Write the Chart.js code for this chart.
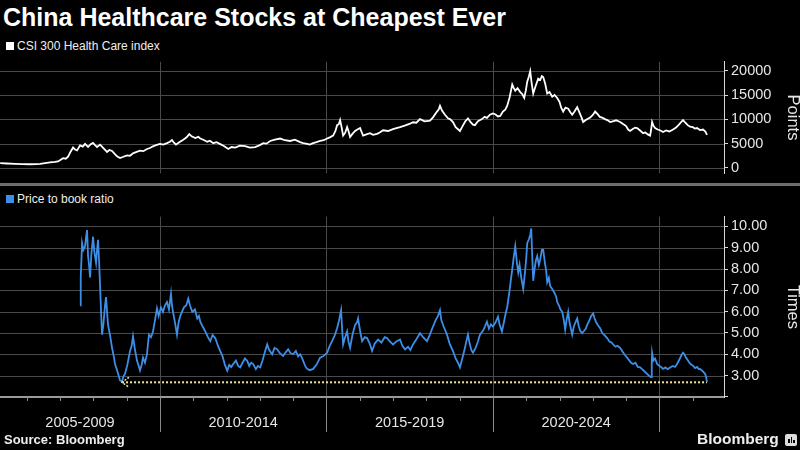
<!DOCTYPE html>
<html>
<head>
<meta charset="utf-8">
<script src="https://cdn.jsdelivr.net/npm/chart.js@4.4.1/dist/chart.umd.min.js"></script>
<style>
  body { margin: 0; background: #000; }
  #wrap { position: relative; width: 800px; height: 450px; overflow: hidden; background: #000;
          font-family: "Liberation Sans", Arial, sans-serif; color: #fff; }
  #title { position: absolute; left: 3px; top: 2px; font-size: 25px; font-weight: bold; line-height: 30px; white-space: nowrap; }
  .legend { position: absolute; left: 6px; font-size: 12px; line-height: 14px; color: #eee; white-space: nowrap; }
  .legend i { display: inline-block; width: 8px; height: 8px; margin-right: 3px; }
  .panel { position: absolute; left: 0; width: 800px; }
  #bar { position: absolute; left: 0; top: 183px; width: 800px; height: 3px; background: #6e6e6e; }
  #source { position: absolute; left: 4px; top: 432px; font-size: 13px; font-weight: bold; color: #eee; }
  #brand { position: absolute; left: 697px; top: 430px; font-size: 15.5px; font-weight: bold; color: #eee; }
  #logo { position: absolute; left: 785px; top: 434px; width: 12px; height: 12px; background: #ddd; border-radius: 2px; }
  #logo b { position: absolute; bottom: 3px; width: 1.5px; background: #000; }
</style>
</head>
<body>
<div id="wrap">
  <div id="title">China Healthcare Stocks at Cheapest Ever</div>
  <div class="legend" style="top:39px"><i style="background:#fff"></i>CSI 300 Health Care index</div>
  <div class="panel" style="top:50px;height:135px"><canvas id="top"></canvas></div>
  <div id="bar"></div>
  <div class="legend" style="top:192px"><i style="background:#3d8ee6"></i>Price to book ratio</div>
  <div class="panel" style="top:205px;height:235px"><canvas id="bottom"></canvas></div>
  <div id="source">Source: Bloomberg</div>
  <div id="brand">Bloomberg</div>
  <div id="logo"><b style="left:3px;height:4px"></b><b style="left:5.5px;height:6px"></b><b style="left:8px;height:3px"></b></div>
</div>
<script>
// CSI 300 Health Care index (points)
const hcYears = [
  2005.20, 2005.40, 2005.65, 2005.85, 2006.10, 2006.30, 2006.40, 2006.55, 2006.70, 2006.85, 2006.94,
  2007.09, 2007.17, 2007.24, 2007.32, 2007.39, 2007.45, 2007.51, 2007.60, 2007.68, 2007.75, 2007.84, 2007.92, 2007.99,
  2008.05, 2008.11, 2008.20, 2008.30, 2008.41, 2008.48, 2008.56, 2008.64, 2008.71, 2008.80, 2008.90,
  2009.01, 2009.10, 2009.19, 2009.30, 2009.40, 2009.50, 2009.61, 2009.70, 2009.79, 2009.88,
  2010.00, 2010.10, 2010.21, 2010.30, 2010.36, 2010.42, 2010.48, 2010.58, 2010.70, 2010.80, 2010.88, 2010.95,
  2011.06, 2011.15, 2011.21, 2011.30, 2011.42, 2011.50, 2011.60, 2011.70, 2011.81, 2011.92,
  2012.05, 2012.15, 2012.26, 2012.40, 2012.56, 2012.70, 2012.86,
  2013.00, 2013.10, 2013.20, 2013.31, 2013.45, 2013.61, 2013.75, 2013.91,
  2014.05, 2014.21, 2014.30, 2014.42, 2014.50, 2014.60, 2014.70, 2014.81, 2014.92,
  2015.02, 2015.10, 2015.20, 2015.27, 2015.32, 2015.37, 2015.41, 2015.46, 2015.50, 2015.56, 2015.62, 2015.67, 2015.71, 2015.78, 2015.86, 2015.93,
  2016.01, 2016.05, 2016.10, 2016.20, 2016.31, 2016.40, 2016.52, 2016.60, 2016.70, 2016.85,
  2017.00, 2017.10, 2017.21, 2017.35, 2017.51, 2017.60, 2017.70, 2017.81, 2017.95,
  2018.11, 2018.20, 2018.32, 2018.37, 2018.41, 2018.47, 2018.56, 2018.65, 2018.72, 2018.80, 2018.88,
  2019.01, 2019.08, 2019.17, 2019.25, 2019.33, 2019.40, 2019.46, 2019.55, 2019.67, 2019.75, 2019.82, 2019.91,
  2020.00, 2020.08, 2020.15, 2020.22, 2020.30, 2020.37, 2020.43, 2020.50, 2020.58, 2020.62, 2020.67, 2020.74, 2020.82, 2020.88, 2020.94, 2020.99,
  2021.03, 2021.08, 2021.12, 2021.16, 2021.21, 2021.28, 2021.36, 2021.42, 2021.47, 2021.51, 2021.57, 2021.63, 2021.70, 2021.78, 2021.85, 2021.93,
  2022.00, 2022.05, 2022.11, 2022.18, 2022.26, 2022.32, 2022.38, 2022.45, 2022.53, 2022.60, 2022.66, 2022.71, 2022.80, 2022.92,
  2023.00, 2023.07, 2023.15, 2023.21, 2023.28, 2023.38, 2023.45, 2023.52, 2023.60, 2023.70, 2023.82, 2023.92,
  2024.00, 2024.06, 2024.12, 2024.20, 2024.27, 2024.33, 2024.42, 2024.51, 2024.58, 2024.65, 2024.72, 2024.75, 2024.78, 2024.82, 2024.87, 2024.95,
  2025.03, 2025.11, 2025.20, 2025.30, 2025.41, 2025.50, 2025.60, 2025.66, 2025.71, 2025.78, 2025.85, 2025.92,
  2026.00, 2026.06, 2026.13, 2026.22, 2026.31, 2026.38, 2026.43
];
const hcValues = [
  1000, 920, 850, 800, 760, 790, 830, 980, 1150, 1250, 1350,
  2000, 1900, 2300, 3400, 4200, 3800, 3600, 4650, 4400, 4950, 4300, 4900, 5150,
  4700, 4300, 4800, 4100, 3300, 3700, 3500, 2900, 2400, 2050, 2300,
  2600, 2500, 3000, 3300, 3550, 3450, 3900, 4100, 4450, 4700,
  4950, 4800, 5100, 5400, 5750, 5200, 4800, 5300, 5800, 6300, 6950, 6500,
  6150, 6400, 6050, 5800, 5400, 5600, 5100, 5300, 4900, 4500,
  3900, 4300, 4200, 4600, 4500, 4200, 4300,
  4700, 5100, 5000, 5550, 5800, 6050, 5700, 5550,
  5800, 5300, 5100, 4950, 4800, 5100, 5300, 5550, 5700,
  6050, 6300, 6650, 7600, 8800, 9000, 9850, 8200, 6650, 7200, 8400, 7400, 6350, 7000, 7600, 7900,
  8200, 7500, 6650, 6900, 7150, 6800, 7000, 7300, 7750, 7600,
  8000, 8200, 8400, 8700, 9100, 9400, 9300, 10050, 9600,
  9750, 10400, 11600, 12000, 12800, 11800, 10950, 10200, 10000, 9450, 8400,
  7600, 8500, 9600, 10200, 9400, 8900, 8800, 9600, 10050, 10500, 10300, 10950,
  11200, 11000, 10600, 10700, 11600, 12000, 12800, 14500, 17150, 16500, 15900, 16400, 15600, 15200, 14400, 16000,
  17750, 18800, 19900, 17600, 15300, 16800, 18350, 18100, 18900, 18700, 17300, 15300, 15600, 14650, 15000, 14400,
  13600, 12400, 11600, 12400, 12200, 11500, 10950, 11600, 12500, 11400, 10400, 9450, 9900, 10350,
  10900, 11600, 11000, 10500, 10350, 10000, 9800, 9450, 9600, 9800, 9450, 9000,
  8600, 7900, 7600, 8000, 8300, 8200, 7700, 7150, 7300, 6900, 6650, 7800, 9450, 8700, 8200, 7900,
  7700, 7400, 7700, 7500, 7900, 8300, 9000, 9500, 9850, 9300, 8800, 8500,
  8400, 8100, 8200, 7800, 7900, 7500, 6800
];

// Price to book ratio (times)
const pbYears = [
  2007.60, 2007.62, 2007.66, 2007.70, 2007.75, 2007.78, 2007.81, 2007.84, 2007.87, 2007.90, 2007.94, 2007.99,
  2008.03, 2008.08, 2008.11, 2008.14, 2008.17, 2008.20, 2008.23, 2008.26, 2008.30, 2008.35, 2008.38, 2008.41, 2008.44,
  2008.50, 2008.56, 2008.60, 2008.65, 2008.72, 2008.80, 2008.86, 2008.90, 2008.95,
  2009.02, 2009.10, 2009.15, 2009.19, 2009.24, 2009.31, 2009.35, 2009.40, 2009.45, 2009.49, 2009.55, 2009.61,
  2009.64, 2009.67, 2009.73, 2009.79, 2009.85, 2009.91, 2009.96,
  2010.03, 2010.09, 2010.15, 2010.21, 2010.27, 2010.33, 2010.36, 2010.39, 2010.45, 2010.51, 2010.56, 2010.61,
  2010.66, 2010.72, 2010.79, 2010.85, 2010.90, 2010.97,
  2011.05, 2011.12, 2011.17, 2011.21, 2011.28, 2011.36, 2011.44, 2011.51, 2011.58, 2011.66, 2011.74, 2011.81, 2011.88, 2011.95,
  2012.02, 2012.08, 2012.14, 2012.20, 2012.28, 2012.35, 2012.41, 2012.48, 2012.55, 2012.62, 2012.68, 2012.74, 2012.80, 2012.88, 2012.94,
  2013.01, 2013.08, 2013.15, 2013.22, 2013.28, 2013.37, 2013.44, 2013.52, 2013.60, 2013.70, 2013.78, 2013.85, 2013.92,
  2014.00, 2014.08, 2014.15, 2014.21, 2014.26, 2014.30, 2014.36, 2014.42, 2014.50, 2014.60, 2014.70, 2014.81, 2014.90,
  2015.02, 2015.10, 2015.17, 2015.25, 2015.32, 2015.38, 2015.44, 2015.47, 2015.50, 2015.56, 2015.62, 2015.66, 2015.71,
  2015.78, 2015.86, 2015.92, 2015.95,
  2016.01, 2016.07, 2016.15, 2016.22, 2016.30, 2016.37, 2016.45, 2016.55, 2016.65, 2016.75, 2016.82, 2016.90,
  2017.00, 2017.10, 2017.21, 2017.28, 2017.36, 2017.45, 2017.52, 2017.60, 2017.70, 2017.81, 2017.90,
  2018.02, 2018.10, 2018.20, 2018.28, 2018.35, 2018.41, 2018.45, 2018.52, 2018.62, 2018.70, 2018.80, 2018.88, 2018.95,
  2019.01, 2019.08, 2019.16, 2019.20, 2019.25, 2019.30, 2019.35, 2019.40, 2019.48, 2019.55, 2019.61, 2019.70, 2019.76,
  2019.82, 2019.88, 2019.94,
  2020.00, 2020.08, 2020.15, 2020.20, 2020.27, 2020.33, 2020.38, 2020.43, 2020.50, 2020.54, 2020.58, 2020.62, 2020.67,
  2020.72, 2020.76, 2020.80, 2020.85, 2020.91, 2020.96,
  2021.00, 2021.03, 2021.08, 2021.12, 2021.15, 2021.18, 2021.21, 2021.25, 2021.29, 2021.33, 2021.38, 2021.42, 2021.47,
  2021.51, 2021.56, 2021.60, 2021.63, 2021.68, 2021.72, 2021.78, 2021.84, 2021.90, 2021.93, 2021.98,
  2022.03, 2022.08, 2022.13, 2022.17, 2022.21, 2022.26, 2022.30, 2022.34, 2022.38, 2022.43, 2022.48, 2022.53, 2022.58,
  2022.62, 2022.68, 2022.74, 2022.79, 2022.83, 2022.90, 2022.95,
  2023.01, 2023.05, 2023.10, 2023.16, 2023.22, 2023.28, 2023.35, 2023.43, 2023.50, 2023.56, 2023.61, 2023.68, 2023.74,
  2023.82, 2023.90, 2023.97,
  2024.03, 2024.10, 2024.15, 2024.21, 2024.28, 2024.35, 2024.42, 2024.48, 2024.55, 2024.63, 2024.68, 2024.72, 2024.75,
  2024.77, 2024.78, 2024.82, 2024.87, 2024.93,
  2025.00, 2025.05, 2025.11, 2025.18, 2025.25, 2025.32, 2025.40, 2025.47, 2025.53, 2025.60, 2025.66, 2025.71, 2025.75,
  2025.79, 2025.83, 2025.90, 2025.96,
  2026.01, 2026.07, 2026.13, 2026.18, 2026.22, 2026.30, 2026.37, 2026.40, 2026.43
];
const pbValues = [
  6.30, 7.6, 9.22, 8.9, 9.07, 9.5, 9.83, 8.6, 8.2, 7.61, 8.7, 9.52,
  8.8, 8.30, 8.9, 9.37, 8.4, 7.22, 6.0, 4.92, 5.4, 6.3, 6.68, 6.0, 5.38,
  4.9, 4.30, 4.0, 3.54, 3.2, 2.77, 2.72, 2.95, 3.08,
  3.5, 4.15, 4.4, 4.84, 4.3, 3.69, 3.5, 3.23, 3.5, 3.84, 3.6, 4.00,
  4.5, 4.92, 4.8, 5.07, 5.6, 6.15, 5.8,
  6.2, 5.99, 6.3, 6.45, 6.1, 6.84, 6.3, 5.99, 5.5, 4.92, 5.5, 5.8,
  5.99, 6.2, 6.3, 6.61, 6.3, 5.99,
  6.1, 5.68, 5.8, 5.53, 5.3, 5.07, 4.8, 4.61, 4.9, 4.76, 4.4, 4.15, 3.9, 3.5,
  3.23, 3.5, 3.4, 3.54, 3.7, 3.45, 3.38, 3.6, 3.8, 3.69, 3.45, 3.6, 3.54, 3.3, 3.45,
  3.38, 3.7, 4.1, 4.46, 4.2, 4.00, 4.3, 4.23, 4.05, 3.92, 4.1, 4.23, 4.05,
  4.00, 4.15, 3.9, 4.00, 3.85, 3.69, 3.45, 3.31, 3.25, 3.31, 3.5, 3.84, 3.9,
  4.07, 4.4, 4.61, 4.9, 5.22, 5.6, 6.07, 5.2, 4.46, 4.8, 5.07, 4.6, 4.30,
  4.9, 5.38, 5.5, 5.68,
  5.1, 4.61, 4.8, 4.76, 4.5, 4.15, 4.5, 4.69, 4.55, 4.8, 4.76, 4.6,
  4.46, 4.6, 4.69, 4.4, 4.23, 4.35, 4.2, 4.46, 4.7, 4.99, 4.8,
  4.61, 4.9, 5.30, 5.6, 5.8, 6.07, 5.6, 5.3, 4.92, 4.5, 4.15, 3.8, 3.6,
  3.38, 3.8, 4.30, 4.6, 4.92, 4.5, 4.2, 4.07, 4.3, 4.6, 4.92, 5.1, 5.3,
  5.53, 5.2, 5.4,
  5.30, 5.5, 5.76, 5.4, 5.07, 5.5, 5.9, 6.22, 7.0, 7.5, 7.99, 8.5, 9.07,
  8.3, 7.84, 8.2, 7.6, 7.07, 7.8,
  8.5, 9.22, 9.4, 9.6, 9.91, 8.6, 7.45, 8.0, 8.4, 8.61, 8.2, 8.45, 8.9,
  8.91, 8.3, 7.9, 7.38, 7.6, 7.2, 7.07, 6.9, 6.7, 6.45, 6.3,
  6.1, 5.99, 5.6, 5.15, 5.6, 5.99, 5.5, 5.2, 4.92, 5.3, 5.5, 5.68, 5.3,
  5.1, 4.99, 5.1, 5.2, 5.38, 5.6, 5.8,
  5.92, 5.7, 5.5, 5.35, 5.22, 5.0, 4.9, 4.76, 4.6, 4.55, 4.46, 4.35, 4.4,
  4.30, 4.1, 3.95,
  3.84, 3.7, 3.6, 3.54, 3.6, 3.4, 3.38, 3.3, 3.2, 3.08, 3.0, 2.95, 2.92,
  3.6, 4.07, 3.7, 3.8, 3.54,
  3.45, 3.4, 3.31, 3.38, 3.3, 3.38, 3.45, 3.4, 3.54, 3.75, 3.95, 4.07, 4.0,
  3.85, 3.77, 3.6, 3.5,
  3.46, 3.35, 3.4, 3.3, 3.31, 3.2, 3.08, 2.95, 2.69
];

// record-low reference line (from the 2008 trough to the latest reading)
const floorLevel = 2.68;
const floorSpan = [2008.86, 2026.43];

// x axis: year ticks and five-year period labels
const yearTicks = [2006, 2007, 2008, 2009, 2010, 2011, 2012, 2013, 2014, 2015, 2016,
  2017, 2018, 2019, 2020, 2021, 2022, 2023, 2024, 2025, 2026];
const periodStarts = [2005, 2010, 2015, 2020];
const periodLabels = ["2005-2009", "2010-2014", "2015-2019", "2020-2024"];
const periodBreaks = [2010, 2015, 2020, 2025];

const xMin = 2005.195;
const xMax = 2026.94;

const gridColor = "#4a4a4a";
const textColor = "#e6e6e6";
const font = "'Liberation Sans', Arial, sans-serif";

function isMajor(v, major) {
  return Math.abs(v / major - Math.round(v / major)) < 1e-6;
}

// grid drawn from the library's scales: horizontal at labelled values, vertical at period breaks
const panelGrid = {
  id: "panelGrid",
  beforeDatasetsDraw(chart, args, opts) {
    const ctx = chart.ctx;
    const area = chart.chartArea;
    const x = chart.scales.x;
    const y = chart.scales.y;
    ctx.save();
    ctx.strokeStyle = gridColor;
    ctx.lineWidth = 1;
    opts.values.forEach((v) => {
      const py = Math.round(y.getPixelForValue(v)) + 0.5;
      ctx.beginPath();
      ctx.moveTo(area.left, py);
      ctx.lineTo(area.right, py);
      ctx.stroke();
    });
    periodBreaks.forEach((v) => {
      const px = Math.round(x.getPixelForValue(v)) + 0.5;
      ctx.beginPath();
      ctx.moveTo(px, area.top);
      ctx.lineTo(px, area.bottom);
      ctx.stroke();
    });
    ctx.restore();
  },
};

function xScale(height) {
  return {
    type: "linear",
    min: xMin,
    max: xMax,
    ticks: { display: false },
    grid: { display: false },
    border: { display: false },
    afterFit: (s) => { s.height = height; },
  };
}

function yScale(min, max, step, major, firstLabel, title, fmt) {
  return {
    position: "right",
    min: min,
    max: max,
    afterBuildTicks: (s) => {
      const t = [];
      for (let v = Math.ceil(min / step) * step; v <= max + 1e-9; v += step) {
        t.push({ value: Math.round(v * 100) / 100 });
      }
      s.ticks = t;
    },
    afterFit: (s) => { s.width = 76; },
    ticks: {
      color: textColor,
      font: { family: font, size: 14.5 },
      padding: 3,
      callback: (v) => (isMajor(v, major) && v >= firstLabel ? fmt(v) : ""),
    },
    grid: { drawOnChartArea: false, tickColor: "#d8d8d8", tickLength: 4 },
    border: { display: true, color: "#d8d8d8" },
    title: {
      display: true,
      text: title,
      color: textColor,
      font: { family: font, size: 16.5 },
      padding: { top: -2, bottom: 0 },
    },
  };
}

// draws year ticks, period separators and period labels under the bottom panel
const periodAxis = {
  id: "periodAxis",
  afterDraw(chart) {
    const ctx = chart.ctx;
    const x = chart.scales.x;
    const area = chart.chartArea;
    ctx.save();
    ctx.strokeStyle = "#9a9a9a";
    ctx.lineWidth = 2;
    ctx.beginPath();
    ctx.moveTo(area.left, area.bottom);
    ctx.lineTo(area.right, area.bottom);
    ctx.stroke();
    ctx.lineWidth = 1;
    ctx.strokeStyle = "#8a8a8a";
    yearTicks.forEach((yr) => {
      const px = Math.round(x.getPixelForValue(yr)) + 0.5;
      if (px < area.left || px > area.right) return;
      const len = periodBreaks.includes(yr) ? 35 : 4;
      ctx.beginPath();
      ctx.moveTo(px, area.bottom);
      ctx.lineTo(px, area.bottom + len);
      ctx.stroke();
    });
    ctx.fillStyle = textColor;
    ctx.font = "14.5px " + font;
    ctx.textAlign = "center";
    ctx.textBaseline = "middle";
    periodLabels.forEach((lab, i) => {
      const a = Math.max(area.left, x.getPixelForValue(periodStarts[i]));
      const b = Math.min(area.right, x.getPixelForValue(periodStarts[i] + 5));
      ctx.fillText(lab, (a + b) / 2, area.bottom + 26);
    });
    ctx.restore();
  },
};

// arrow head at the start of the record-low line
const floorArrow = {
  id: "floorArrow",
  afterDatasetsDraw(chart) {
    const p = chart.getDatasetMeta(1).data[0];
    if (!p) return;
    const ctx = chart.ctx;
    ctx.save();
    ctx.strokeStyle = "#efe6a4";
    ctx.lineWidth = 1.5;
    ctx.setLineDash([2, 1.5]);
    ctx.beginPath();
    ctx.moveTo(p.x + 7, p.y - 5);
    ctx.lineTo(p.x, p.y);
    ctx.lineTo(p.x + 7, p.y + 5);
    ctx.stroke();
    ctx.restore();
  },
};

Chart.defaults.font.family = font;
Chart.defaults.color = textColor;

new Chart(document.getElementById("top"), {
  type: "line",
  data: {
    datasets: [{
      data: hcYears.map((t, i) => ({ x: t, y: hcValues[i] })),
      borderColor: "#ffffff",
      borderWidth: 1.8,
      pointRadius: 0,
      tension: 0,
    }],
  },
  options: {
    responsive: true,
    maintainAspectRatio: false,
    animation: false,
    events: [],
    layout: { padding: { top: 8, bottom: 3, left: 0, right: 0 } },
    plugins: {
      legend: { display: false },
      tooltip: { enabled: false },
      panelGrid: { values: [0, 5000, 10000, 15000, 20000] },
    },
    scales: {
      x: xScale(0),
      y: yScale(-1100, 21850, 2500, 5000, 0, "Points", (v) => String(v)),
    },
  },
  plugins: [panelGrid],
});

new Chart(document.getElementById("bottom"), {
  type: "line",
  data: {
    datasets: [
      {
        data: pbYears.map((t, i) => ({ x: t, y: pbValues[i] })),
        borderColor: "#3d8ee6",
        borderWidth: 1.8,
        pointRadius: 0,
        tension: 0,
      },
      {
        data: floorSpan.map((t) => ({ x: t, y: floorLevel })),
        borderColor: "#efe6a4",
        borderWidth: 2,
        borderDash: [2, 2],
        pointRadius: 0,
      },
    ],
  },
  options: {
    responsive: true,
    maintainAspectRatio: false,
    animation: false,
    events: [],
    layout: { padding: { top: 8, bottom: 3, left: 0, right: 0 } },
    plugins: {
      legend: { display: false },
      tooltip: { enabled: false },
      panelGrid: { values: [3, 4, 5, 6, 7, 8, 9, 10] },
    },
    scales: {
      x: xScale(40),
      y: yScale(1.99, 10.46, 0.5, 1, 3, "Times", (v) => v.toFixed(2)),
    },
  },
  plugins: [panelGrid, periodAxis, floorArrow],
});
</script>
</body>
</html>
